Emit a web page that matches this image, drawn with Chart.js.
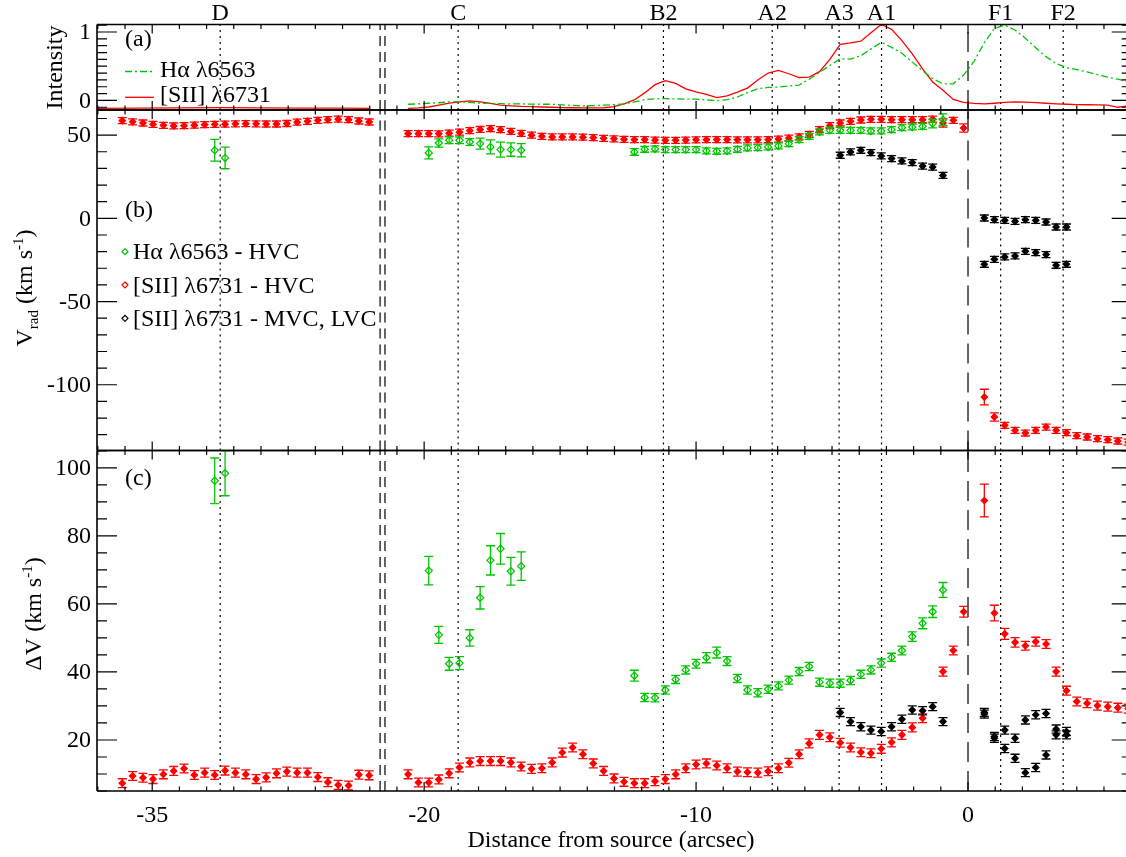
<!DOCTYPE html>
<html>
<head>
<meta charset="utf-8">
<script src="https://cdn.jsdelivr.net/npm/chart.js@4.4.0/dist/chart.umd.min.js"></script>
<style>
html, body { margin: 0; padding: 0; background: #fff; }
#wrap { position: relative; width: 1126px; height: 857px; }
#wrap canvas { position: absolute; left: 0; top: 0; }
</style>
</head>
<body>
<div id="wrap">
<canvas id="pa" width="1126" height="857"></canvas>
<canvas id="pb" width="1126" height="857"></canvas>
<canvas id="pc" width="1126" height="857"></canvas>
</div>
<script>
// the far block (D) is shown shifted 5" to the right, past the axis break
const BREAK_SHIFT = 5;
const BREAK_AT = -21.5;

// slit positions (arcsec)
const xLeft = [-36.10, -35.72, -35.34, -34.97, -34.59, -34.21, -33.83, -33.45, -33.07, -32.70,
               -32.32, -31.94, -31.56, -31.18, -30.81, -30.43, -30.05, -29.67, -29.29, -28.91,
               -28.54, -28.16, -27.78, -27.40, -27.02];
const xRight = [-20.59, -20.21, -19.83, -19.46, -19.08, -18.70, -18.32, -17.94, -17.56, -17.19,
                -16.81, -16.43, -16.05, -15.67, -15.29, -14.92, -14.54, -14.16, -13.78, -13.40,
                -13.02, -12.65, -12.27, -11.89, -11.51, -11.13, -10.75, -10.38, -10.00, -9.62,
                -9.24, -8.86, -8.48, -8.11, -7.73, -7.35, -6.97, -6.59, -6.21, -5.84,
                -5.46, -5.08, -4.70, -4.32, -3.94, -3.57, -3.19, -2.81, -2.43, -2.05,
                -1.67, -1.30, -0.92, -0.54, -0.16, 0.22, 0.60, 0.97, 1.35, 1.73,
                2.11, 2.49, 2.87, 3.24, 3.62, 4.00, 4.38, 4.76, 5.14, 5.51,
                5.89];

const knotNames = ['D', 'C', 'B2', 'A2', 'A3', 'A1', 'F1', 'F2'];
const knotPos = [-32.5, -18.75, -11.2, -7.2, -4.74, -3.18, 1.2, 3.5];

// (a) intensity profiles
const intLeftX = [-37.0, -35.5, -34.0, -32.5, -31.0, -29.5, -28.0, -27.0];
const intLeftRed = [-0.115, -0.113, -0.11, -0.105, -0.108, -0.112, -0.114, -0.115];
const intRed = [-0.115, -0.11, -0.096, -0.07, -0.04, -0.022, -0.007, -0.022, -0.044, -0.07,
                -0.08, -0.088, -0.09, -0.096, -0.10, -0.105, -0.107, -0.11, -0.11, -0.107,
                -0.09, -0.05, 0.007, 0.11, 0.23, 0.29, 0.25, 0.17, 0.125, 0.09,
                0.04, 0.066, 0.12, 0.18, 0.30, 0.40, 0.44, 0.39, 0.335, 0.34,
                0.42, 0.60, 0.82, 0.84, 0.865, 0.99, 1.11, 1.04, 0.875, 0.68,
                0.46, 0.27, 0.147, 0.015, -0.03, -0.044, -0.05, -0.041, -0.03, -0.022,
                -0.026, -0.032, -0.041, -0.05, -0.056, -0.06, -0.063, -0.066, -0.07, -0.10,
                -0.08];
const intGreen = [-0.056, -0.05, -0.041, -0.034, -0.022, -0.018, -0.03, -0.041, -0.044, -0.048,
                  -0.051, -0.051, -0.054, -0.056, -0.056, -0.066, -0.073, -0.08, -0.076, -0.07,
                  -0.062, -0.051, -0.022, 0.012, 0.022, 0.026, 0.022, 0.019, 0.018, 0.007,
                  -0.003, 0.013, 0.05, 0.115, 0.17, 0.19, 0.195, 0.21, 0.225, 0.31,
                  0.41, 0.51, 0.61, 0.605, 0.655, 0.75, 0.85, 0.775, 0.69, 0.56,
                  0.434, 0.32, 0.243, 0.243, 0.37, 0.57, 0.845, 1.05, 1.10, 1.03,
                  0.91, 0.77, 0.64, 0.54, 0.48, 0.45, 0.416, 0.378, 0.34, 0.31,
                  0.276];

// (b) radial velocity, km/s
const vRedLeft = [58.7, 58.0, 57.3, 56.5, 55.9, 55.5, 55.7, 56.0, 56.3, 56.5,
                  56.6, 56.8, 56.9, 56.8, 56.7, 56.7, 57.0, 57.8, 58.3, 58.9,
                  59.3, 59.6, 59.3, 58.5, 57.9];
const vGreenLeft = [null, null, null, null, null, null, null, null, null, 40.9,
                    36.3, null, null, null, null, null, null, null, null, null,
                    null, null, null, null, null];
const eGreenLeft = [null, null, null, null, null, null, null, null, null, 6.5,
                    6.5, null, null, null, null, null, null, null, null, null,
                    null, null, null, null, null];
const vRed = [50.9, 50.9, 50.9, 50.8, 51.2, 51.8, 52.7, 53.4, 53.9, 53.3,
              52.2, 51.0, 50.0, 49.3, 48.9, 48.9, 48.9, 48.8, 48.5, 48.1,
              47.8, 47.5, 47.3, 47.3, 47.0, 46.9, 46.9, 47.0, 47.2, 47.3,
              47.3, 47.3, 47.2, 47.2, 47.2, 47.3, 47.6, 48.2, 49.0, 50.4,
              53.3, 55.7, 57.3, 58.3, 59.1, 59.5, 59.5, 59.3, 59.3, 59.3,
              59.3, 59.6, 57.3, 58.9, 54.3, null, -107.4, -119.4, -124.4, -127.4,
              -129.0, -127.4, -125.4, -127.4, -128.8, -130.6, -131.4, -132.4, -133.0, -133.8,
              -134.5];
const eRed = [1.8, 1.8, 1.8, 1.8, 1.8, 1.8, 1.8, 1.8, 1.8, 1.8,
              1.8, 1.8, 1.8, 1.8, 1.8, 1.8, 1.8, 1.8, 1.8, 1.8,
              1.8, 1.8, 1.8, 1.8, 1.8, 1.8, 1.8, 1.8, 1.8, 1.8,
              1.8, 1.8, 1.8, 1.8, 1.8, 1.8, 1.8, 1.8, 1.8, 1.8,
              1.8, 1.8, 1.8, 1.8, 1.8, 1.8, 1.8, 1.8, 1.8, 1.8,
              1.8, 1.8, 2.5, 1.8, 2.5, null, 4.7, 2.5, 1.8, 1.8,
              1.8, 1.8, 1.8, 1.8, 1.8, 1.8, 1.8, 1.8, 1.8, 1.8,
              1.8];
const vGreen = [null, null, 39.3, 45.3, 46.9, 46.9, 45.9, 44.9, 42.9, 41.3,
                41.3, 40.9, null, null, null, null, null, null, null, null,
                null, null, 39.9, 41.5, 41.7, 41.3, 41.3, 41.3, 41.3, 40.5,
                40.3, 40.5, 41.5, 42.3, 42.5, 42.9, 43.5, 44.9, 47.3, 49.3,
                51.9, 52.9, 52.9, 52.9, 52.9, 52.5, 52.5, 53.3, 54.5, 54.9,
                55.3, 56.9, 59.3, null, null, null, null, null, null, null,
                null, null, null, null, null, null, null, null, null, null,
                null];
const eGreen = [null, null, 3.6, 2.5, 2.0, 2.0, 2.0, 3.3, 4.2, 4.5,
                4.0, 4.0, null, null, null, null, null, null, null, null,
                null, null, 2.0, 1.8, 1.8, 1.8, 1.8, 1.8, 1.8, 1.8,
                1.8, 1.8, 1.8, 1.8, 1.8, 1.8, 1.8, 1.8, 1.8, 1.8,
                1.8, 1.8, 1.8, 1.8, 1.8, 1.8, 1.8, 1.8, 1.8, 1.8,
                1.8, 2.5, 3.5, null, null, null, null, null, null, null,
                null, null, null, null, null, null, null, null, null, null,
                null];
const vBlack1 = [null, null, null, null, null, null, null, null, null, null,
                 null, null, null, null, null, null, null, null, null, null,
                 null, null, null, null, null, null, null, null, null, null,
                 null, null, null, null, null, null, null, null, null, null,
                 null, null, 37.9, 39.9, 40.9, 39.5, 37.5, 35.9, 34.5, 33.5,
                 31.4, 30.8, 25.8, null, null, null, 0.2, -0.8, -1.2, -1.8,
                 -0.8, -1.2, -2.2, -5.2, -5.2, null, null, null, null, null,
                 null];
const vBlack2 = [null, null, null, null, null, null, null, null, null, null,
                 null, null, null, null, null, null, null, null, null, null,
                 null, null, null, null, null, null, null, null, null, null,
                 null, null, null, null, null, null, null, null, null, null,
                 null, null, null, null, null, null, null, null, null, null,
                 null, null, null, null, null, null, -27.6, -24.6, -23.2, -22.6,
                 -19.8, -20.6, -21.8, -28.2, -27.6, null, null, null, null, null,
                 null];

// (c) line width, km/s
const dvRedLeft = [7.3, 9.4, 8.9, 8.5, 9.9, 10.9, 11.6, 9.7, 10.4, 9.7,
                   11.0, 10.4, 9.9, 8.5, 9.0, 10.2, 10.7, 10.4, 10.4, 9.1,
                   7.6, 6.8, 6.6, 9.8, 9.6];
const dvGreenLeft = [null, null, null, null, null, null, null, null, null, 96.2,
                     98.4, null, null, null, null, null, null, null, null, null,
                     null, null, null, null, null];
const edvGreenLeft = [null, null, null, null, null, null, null, null, null, 6.7,
                      6.6, null, null, null, null, null, null, null, null, null,
                      null, null, null, null, null];
const dvRed = [9.9, 7.5, 7.5, 8.4, 10.2, 11.9, 13.4, 13.8, 13.8, 13.8,
               13.4, 12.2, 11.5, 11.7, 13.4, 16.3, 17.8, 15.8, 13.1, 10.9,
               8.7, 7.7, 7.3, 7.3, 7.9, 8.5, 9.9, 11.7, 12.8, 13.1,
               12.5, 11.7, 10.7, 10.5, 10.4, 10.8, 11.7, 13.3, 15.8, 19.0,
               21.5, 20.8, 19.2, 17.8, 16.4, 16.1, 17.4, 19.3, 21.5, 23.7,
               26.4, null, 40.1, 46.3, 57.7, null, 90.4, 57.3, 51.2, 48.7,
               47.7, 48.9, 48.2, 40.1, 34.5, 31.3, 30.8, 30.1, 29.8, 29.5,
               29.2];
const edvRed = [1.3, 1.3, 1.3, 1.3, 1.3, 1.3, 1.3, 1.3, 1.3, 1.3,
                1.3, 1.3, 1.3, 1.3, 1.3, 1.3, 1.3, 1.3, 1.3, 1.3,
                1.3, 1.3, 1.3, 1.3, 1.3, 1.3, 1.3, 1.3, 1.3, 1.3,
                1.3, 1.3, 1.3, 1.3, 1.3, 1.3, 1.3, 1.3, 1.3, 1.3,
                1.3, 1.3, 1.3, 1.3, 1.3, 1.3, 1.3, 1.3, 1.3, 1.3,
                1.3, null, 1.3, 1.3, 1.6, null, 4.8, 2.3, 1.6, 1.4,
                1.3, 1.3, 1.3, 1.3, 1.3, 1.3, 1.3, 1.3, 1.3, 1.3,
                1.3];
const dvGreen = [null, null, 69.8, 50.9, 42.4, 42.6, 50.0, 61.8, 72.8, 76.2,
                 69.6, 71.1, null, null, null, null, null, null, null, null,
                 null, null, 38.9, 32.5, 32.4, 34.7, 37.8, 40.6, 42.4, 44.2,
                 45.7, 43.2, 38.1, 34.7, 33.9, 34.9, 35.9, 37.6, 40.1, 41.6,
                 37.0, 36.7, 36.7, 37.5, 39.3, 40.6, 42.6, 44.3, 46.3, 50.4,
                 54.3, 57.7, 64.1, null, null, null, null, null, null, null,
                 null, null, null, null, null, null, null, null, null, null,
                 null];
const edvGreen = [null, null, 4.2, 2.5, 1.9, 1.9, 2.4, 3.3, 4.3, 4.5,
                  4.1, 4.2, null, null, null, null, null, null, null, null,
                  null, null, 1.6, 1.2, 1.2, 1.2, 1.2, 1.2, 1.3, 1.5,
                  1.6, 1.3, 1.2, 1.2, 1.2, 1.2, 1.2, 1.2, 1.2, 1.2,
                  1.2, 1.2, 1.2, 1.2, 1.2, 1.2, 1.2, 1.2, 1.3, 1.4,
                  1.6, 1.7, 2.2, null, null, null, null, null, null, null,
                  null, null, null, null, null, null, null, null, null, null,
                  null];
const dvBlack1 = [null, null, null, null, null, null, null, null, null, null,
                  null, null, null, null, null, null, null, null, null, null,
                  null, null, null, null, null, null, null, null, null, null,
                  null, null, null, null, null, null, null, null, null, null,
                  null, null, 28.1, 25.4, 23.9, 22.9, 22.5, 23.9, 26.1, 28.8,
                  28.6, 29.8, 25.4, null, null, null, 28.1, 21.0, 22.9, 20.5,
                  25.9, 27.4, 27.8, 23.2, 22.5, null, null, null, null, null,
                  null];
const dvBlack2 = [null, null, null, null, null, null, null, null, null, null,
                  null, null, null, null, null, null, null, null, null, null,
                  null, null, null, null, null, null, null, null, null, null,
                  null, null, null, null, null, null, null, null, null, null,
                  null, null, null, null, null, null, null, null, null, null,
                  null, null, null, null, null, null, 27.6, 20.5, 17.5, 14.6,
                  10.4, 11.9, 15.6, 21.5, 21.5, null, null, null, null, null,
                  null];

const RED = '#ff0000';
const GREEN = '#00c400';
const FONT = '24px "Liberation Serif", "DejaVu Serif", serif';
const SMALL = '15px "Liberation Serif", "DejaVu Serif", serif';

// plot coordinate range of the (broken) x axis
const X_MIN = -32.03, X_MAX = 5.81, X_RIGHT_AXIS = 6.02;
const X_MAJORS = [-30, -20, -10, 0];
const BREAK_LINES = [-21.62, -21.44];

function toPlot(d) { return d < -25 ? d + BREAK_SHIFT : d; }

function pts(xs, ys, es, shift) {
  const out = [];
  ys.forEach((v, k) => {
    if (v === null) return;
    out.push({ x: xs[k] + (shift || 0), y: v, e: es === undefined ? 0 : (Array.isArray(es) ? es[k] : es) });
  });
  return out;
}

function points(data, color, filled, order) {
  return {
    data: data, errorBars: true, order: order,
    borderColor: color, backgroundColor: filled ? color : 'rgba(0,0,0,0)',
    pointStyle: 'rectRot', pointRadius: filled ? 3.2 : 3.6, pointBorderWidth: 1.2,
    showLine: false
  };
}

function curve(data, color, dash) {
  return { data: data, showLine: true, borderColor: color, borderWidth: 1.3, borderDash: dash || [],
           pointRadius: 0, tension: 0, order: 5 };
}

function vline(u, dash, y0, y1) {
  return { data: [{ x: u, y: y0 }, { x: u, y: y1 }], showLine: true, borderColor: '#000',
           borderWidth: 1.2, borderDash: dash, pointRadius: 0, order: 20 };
}

function guideLines(y0, y1) {
  const out = knotPos.map(p => vline(toPlot(p), [2, 4], y0, y1));
  BREAK_LINES.forEach(u => out.push(vline(u, [10, 6], y0, y1)));
  out.push(vline(0, [20, 9], y0, y1));
  return out;
}

// error bars drawn under each marker
const errorBars = {
  id: 'errorBars',
  beforeDatasetDraw(chart, args) {
    const ds = chart.data.datasets[args.index];
    if (!ds.errorBars) return;
    const ctx = chart.ctx, ys = chart.scales.y, a = chart.chartArea;
    ctx.save();
    ctx.beginPath();
    ctx.rect(a.left, a.top, a.right - a.left, a.bottom - a.top);
    ctx.clip();
    ctx.strokeStyle = ds.borderColor;
    ctx.lineWidth = 1.3;
    args.meta.data.forEach((el, k) => {
      const d = ds.data[k];
      if (!d.e) return;
      const t = ys.getPixelForValue(d.y + d.e), b = ys.getPixelForValue(d.y - d.e);
      ctx.beginPath();
      ctx.moveTo(el.x, t); ctx.lineTo(el.x, b);
      ctx.moveTo(el.x - 4.5, t); ctx.lineTo(el.x + 4.5, t);
      ctx.moveTo(el.x - 4.5, b); ctx.lineTo(el.x + 4.5, b);
      ctx.stroke();
    });
    ctx.restore();
  }
};

function drawRotated(ctx, parts, bx, cy) {
  ctx.save();
  ctx.translate(bx, cy);
  ctx.rotate(-Math.PI / 2);
  ctx.textAlign = 'left';
  ctx.textBaseline = 'alphabetic';
  let total = 0;
  const w = parts.map(p => {
    ctx.font = p[1] ? SMALL : FONT;
    const m = ctx.measureText(p[0]).width;
    total += m;
    return m;
  });
  let x = -total / 2;
  parts.forEach((p, k) => {
    ctx.font = p[1] ? SMALL : FONT;
    ctx.fillText(p[0], x, p[1] === 1 ? 6 : (p[1] === 2 ? -9 : 0));
    x += w[k];
  });
  ctx.restore();
}

const PANELS = {
  pa: {
    majors: [0, 1], minorFrom: -1, minorTo: 11, minorDiv: 10,
    extra(ctx, chart) {
      const xs = chart.scales.x;
      ctx.textAlign = 'center';
      knotNames.forEach((n, k) => ctx.fillText(n, xs.getPixelForValue(toPlot(knotPos[k])), 20));
      ctx.textAlign = 'left';
      ctx.fillText('(a)', 125, 46);
      ctx.fillText('H\u03b1 \u03bb6563', 160, 77);
      ctx.fillText('[SII] \u03bb6731', 160, 102);
      ctx.lineWidth = 1.3;
      ctx.strokeStyle = GREEN;
      ctx.setLineDash([7, 3, 2, 3]);
      ctx.beginPath(); ctx.moveTo(125, 71.5); ctx.lineTo(154, 71.5); ctx.stroke();
      ctx.setLineDash([]);
      ctx.strokeStyle = RED;
      ctx.beginPath(); ctx.moveTo(125, 97.3); ctx.lineTo(154, 97.3); ctx.stroke();
      drawRotated(ctx, [['Intensity', 0]], 62, 67.5);
    }
  },
  pb: {
    majors: [-100, -50, 0, 50], minorFrom: -13, minorTo: 6, minorDiv: 0.1,
    extra(ctx) {
      ctx.textAlign = 'left';
      ctx.fillText('(b)', 125, 217);
      const rows = [['H\u03b1 \u03bb6563 - HVC', GREEN], ['[SII] \u03bb6731 - HVC', RED], ['[SII] \u03bb6731 - MVC, LVC', '#000']];
      rows.forEach((r, k) => {
        const cy = 251.7 + k * 33.3;
        ctx.fillStyle = '#000';
        ctx.fillText(r[0], 133, cy + 7.5);
        ctx.strokeStyle = r[1];
        ctx.lineWidth = 1.2;
        ctx.beginPath();
        ctx.moveTo(125, cy - 3); ctx.lineTo(128, cy); ctx.lineTo(125, cy + 3); ctx.lineTo(122, cy); ctx.closePath();
        ctx.stroke();
      });
      drawRotated(ctx, [['V', 0], ['rad', 1], [' (km s', 0], ['-1', 2], [')', 0]], 32, 288);
    }
  },
  pc: {
    majors: [20, 40, 60, 80, 100], minorFrom: 1, minorTo: 21, minorDiv: 0.2,
    extra(ctx, chart) {
      const xs = chart.scales.x;
      ctx.textAlign = 'left';
      ctx.fillText('(c)', 125, 485);
      ctx.textAlign = 'center';
      X_MAJORS.forEach(u => {
        const lab = u < BREAK_AT ? u - BREAK_SHIFT : u;
        ctx.fillText(String(lab), xs.getPixelForValue(u), 822);
      });
      ctx.fillText('Distance from source (arcsec)', 611, 847);
      drawRotated(ctx, [['\u0394V (km s', 0], ['-1', 2], [')', 0]], 41, 614);
    }
  }
};

const panelAxes = {
  id: 'panelAxes',
  afterDraw(chart) {
    const P = PANELS[chart.canvas.id];
    const ctx = chart.ctx, xs = chart.scales.x, ys = chart.scales.y, a = chart.chartArea;
    ctx.save();
    ctx.strokeStyle = '#000';
    ctx.lineWidth = 1.6;
    ctx.beginPath();
    ctx.moveTo(a.left, a.top); ctx.lineTo(a.right, a.top);
    ctx.moveTo(a.left, a.bottom); ctx.lineTo(a.right, a.bottom);
    ctx.moveTo(a.left, a.top); ctx.lineTo(a.left, a.bottom);
    ctx.stroke();

    // inward ticks
    ctx.lineWidth = 1.2;
    ctx.beginPath();
    for (let u = -32; u <= 6; u++) {
      const px = xs.getPixelForValue(u);
      const len = X_MAJORS.includes(u) ? 9 : 4.5;
      ctx.moveTo(px, a.top); ctx.lineTo(px, a.top + len);
      ctx.moveTo(px, a.bottom); ctx.lineTo(px, a.bottom - len);
    }
    const xr = xs.getPixelForValue(X_RIGHT_AXIS);
    for (let k = P.minorFrom; k <= P.minorTo; k++) {
      const val = Math.round((k / P.minorDiv) * 1000) / 1000;
      const py = ys.getPixelForValue(val);
      const len = P.majors.includes(val) ? 20 : 10;
      ctx.moveTo(a.left, py); ctx.lineTo(a.left + len, py);
      ctx.moveTo(xr, py); ctx.lineTo(xr - len, py);
    }
    ctx.stroke();

    ctx.fillStyle = '#000';
    ctx.font = FONT;
    ctx.textAlign = 'right';
    ctx.textBaseline = 'middle';
    P.majors.forEach(v => ctx.fillText(String(v), 91, ys.getPixelForValue(v) + 1));
    ctx.textBaseline = 'alphabetic';
    P.extra(ctx, chart);
    ctx.restore();
  }
};

function makePanel(id, top, bottom, yMin, yMax, datasets) {
  return new Chart(document.getElementById(id), {
    type: 'scatter',
    data: { datasets: datasets },
    options: {
      responsive: false,
      animation: false,
      devicePixelRatio: 1,
      events: [],
      layout: { autoPadding: false, padding: { left: 97, right: 0, top: top, bottom: 857 - bottom } },
      scales: {
        x: { type: 'linear', display: false, min: X_MIN, max: X_MAX },
        y: { type: 'linear', display: false, min: yMin, max: yMax }
      },
      plugins: { legend: { display: false }, tooltip: { enabled: false } }
    },
    plugins: [errorBars, panelAxes]
  });
}

makePanel('pa', 24.5, 110, -0.14, 1.11, [
  curve(pts(intLeftX, intLeftRed, undefined, BREAK_SHIFT), RED),
  curve(pts(xRight, intGreen), GREEN, [7, 3, 2, 3]),
  curve(pts(xRight, intRed), RED)
].concat(guideLines(-0.14, 1.11)));

makePanel('pb', 110, 450.5, -139.5, 65.1, [
  points(pts(xLeft, vRedLeft, 1.8, BREAK_SHIFT), RED, true, 3),
  points(pts(xLeft, vGreenLeft, eGreenLeft, BREAK_SHIFT), GREEN, false, 2),
  points(pts(xRight, vRed, eRed), RED, true, 3),
  points(pts(xRight, vGreen, eGreen), GREEN, false, 2),
  points(pts(xRight, vBlack1, 1.8), '#000', true, 1),
  points(pts(xRight, vBlack2, 1.8), '#000', true, 1)
].concat(guideLines(-139.5, 65.1)));

makePanel('pc', 450.5, 791, 5.0, 105.1, [
  points(pts(xLeft, dvRedLeft, 1.3, BREAK_SHIFT), RED, true, 3),
  points(pts(xLeft, dvGreenLeft, edvGreenLeft, BREAK_SHIFT), GREEN, false, 2),
  points(pts(xRight, dvRed, edvRed), RED, true, 3),
  points(pts(xRight, dvGreen, edvGreen), GREEN, false, 2),
  points(pts(xRight, dvBlack1, 1.2), '#000', true, 1),
  points(pts(xRight, dvBlack2, 1.2), '#000', true, 1)
].concat(guideLines(5.0, 105.1)));
</script>
</body>
</html>
